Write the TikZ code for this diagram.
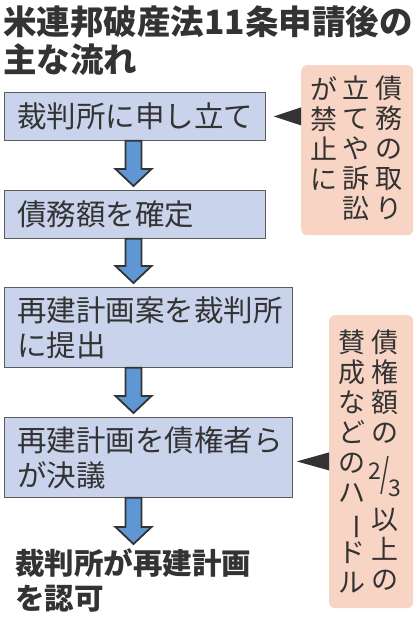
\documentclass[tikz,border=0pt]{standalone}
\usepackage{fontspec}
\setmainfont{Noto Sans CJK JP}
\usetikzlibrary{calc,positioning}

\definecolor{boxblue}{HTML}{C9D4EC}
\definecolor{arrowblue}{HTML}{5F96D4}
\definecolor{notepink}{HTML}{F8D4C5}
\definecolor{inkgray}{HTML}{333333}

% block arrow between two steps, on the common axis
\newcommand\flowarrow[2]{%
  \draw[flowarrow] ($(#1.south -| axis)+(-8,0)$) -- ($(#1.south -| axis)+(8,0)$)
    -- ($(#2.north -| axis)+(8,-21)$) -- ($(#2.north -| axis)+(18,-21)$)
    -- ($(#2.north -| axis)+(0,-4)$) -- ($(#2.north -| axis)+(-18,-21)$)
    -- ($(#2.north -| axis)+(-8,-21)$) -- cycle;}

\begin{document}
\begin{tikzpicture}[
		x=1pt, y=-1pt,
		every node/.style={text=inkgray, inner sep=0pt},
		title/.style={anchor=north west, align=left, font=\bfseries\fontsize{33.5pt}{38pt}\selectfont},
		stepbox/.style={draw=inkgray!80, line width=0.8pt, fill=boxblue, anchor=north west,
			inner xsep=13pt, align=left, font=\fontsize{29.5pt}{35pt}\selectfont},
		finaltext/.style={anchor=north west, align=left, font=\bfseries\fontsize{29.5pt}{35pt}\selectfont},
		notebox/.style={fill=notepink, rounded corners=6pt, anchor=north west},
		vcol/.style={anchor=north, align=center, font=\fontsize{27pt}{30pt}\selectfont},
		flowarrow/.style={fill=arrowblue, draw=inkgray, line width=1.8pt, line join=miter},
		pointer/.style={fill=inkgray}
	]
		\useasboundingbox (0,0) rectangle (420,619);
		\coordinate (axis) at (133.5,0);

		% Title
		\node[title] (title) at (3,5) {米連邦破産法11条申請後の\\主な流れ};

		% Steps
		\node[stepbox, text width=235pt, minimum height=48pt] (b1) at (4,92) {裁判所に申し立て};
		\node[stepbox, text width=235pt, minimum height=48pt] (b2) at (4,190) {債務額を確定};
		\node[stepbox, text width=262pt, minimum height=80pt] (b3) at (4,287) {再建計画案を裁判所\\に提出};
		\node[stepbox, text width=262pt, minimum height=80pt] (b4) at (4,417) {再建計画を債権者ら\\が決議};
		\node[finaltext] (b5) at (15,548) {裁判所が再建計画\\を認可};

		% Arrows down
		\flowarrow{b1}{b2}
		\flowarrow{b2}{b3}
		\flowarrow{b3}{b4}
		\flowarrow{b4}{b5}

		% Note 1
		\node[notebox, minimum width=112pt, minimum height=170pt] (note1) at (301,65) {};
		\node[vcol] (n1a) at (389,76) {債\\務\\の\\取\\り};
		\node[vcol] (n1b) at (356,76) {立\\て\\や\\訴\\訟};
		\node[vcol] (n1c) at (324,76) {が\\禁\\止\\に};
		\coordinate (p1) at (note1.west |- b1.east);
		\fill[pointer] ($(p1)+(0,-9)$) -- ($(b1.east)+(8,0)$) -- ($(p1)+(0,9)$) -- cycle;

		% Note 2
		\node[notebox, minimum width=84pt, minimum height=293pt] (note2) at (329,315) {};
		\node[vcol] (n2a) at (385,330) {債\\権\\額\\の\\[12pt]{\fontsize{23pt}{23pt}\selectfont\raisebox{8pt}{2}\kern-1pt\scalebox{1}[1.7]{/}\kern-1pt\raisebox{-9pt}{3}}\\[10pt]以\\上\\の};
		\node[vcol] (n2b) at (352,330) {賛\\成\\な\\ど\\の\\ハ\\\rotatebox[origin=c]{-90}{ー}\\ド\\ル};
		\coordinate (p2) at (note2.west |- b4.east);
		\fill[pointer] ($(p2)+(0,-5)$) -- ($(b4.east)+(4,4)$) -- ($(p2)+(0,13)$) -- cycle;
	\end{tikzpicture}
\end{document}
